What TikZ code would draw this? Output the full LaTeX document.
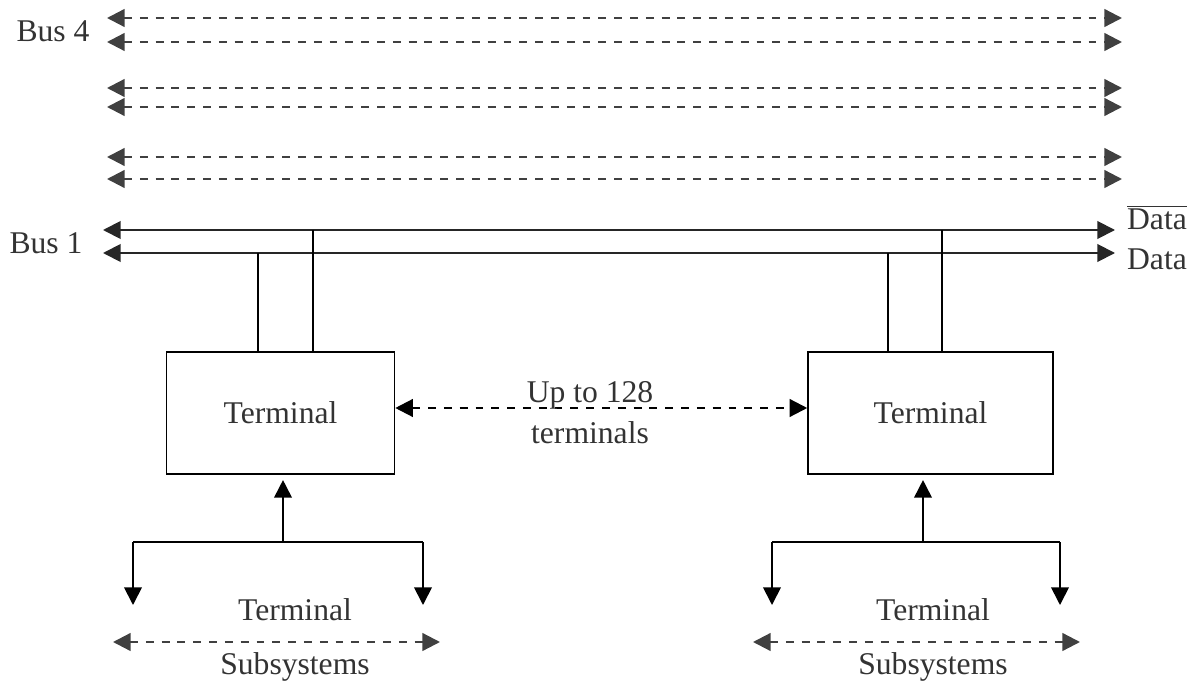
\documentclass[tikz,border=0pt]{standalone}
\usepackage{fontspec}
\setmainfont{Liberation Serif}
\usetikzlibrary{arrows.meta}

\tikzset{
  txt/.style={font=\fontsize{18}{20}\selectfont, text=black!80, inner sep=0pt},
  termbox/.style={draw, line width=0.9pt, minimum height=2.44cm, txt},
  arr/.style={line width=1.1pt, {Triangle[length=10pt,width=10pt]}-{Triangle[length=10pt,width=10pt]}},
  upa/.style={line width=1pt, -{Triangle[length=10pt,width=10pt]}},
  darr/.style={arr, line width=1.3pt, dash pattern=on 4.5pt off 4.5pt, black!75},
}

\begin{document}
\begin{tikzpicture}[x=0.02cm, y=-0.02cm]
\useasboundingbox (0,0) rectangle (1197,689);

% bus 4 .. bus 2
\node[txt] (bus4) at (53,31) {Bus 4};
\coordinate (b1l) at (107,18);  \coordinate (b1r) at (1122,18);
\coordinate (b2l) at (107,42);  \coordinate (b2r) at (1122,42);
\coordinate (b3l) at (107,88);  \coordinate (b3r) at (1122,88);
\coordinate (b4l) at (107,107); \coordinate (b4r) at (1122,107);
\coordinate (b5l) at (107,157); \coordinate (b5r) at (1122,157);
\coordinate (b6l) at (107,179); \coordinate (b6r) at (1122,179);
\draw[darr] (b1l) -- (b1r);
\draw[darr] (b2l) -- (b2r);
\draw[darr] (b3l) -- (b3r);
\draw[darr] (b4l) -- (b4r);
\draw[darr] (b5l) -- (b5r);
\draw[darr] (b6l) -- (b6r);

% bus 1
\node[txt] (bus1) at (46,243) {Bus 1};
\coordinate (nd1) at (103,230); \coordinate (nd2) at (1115,230);
\coordinate (d1) at (103,253);  \coordinate (d2) at (1115,253);
\draw[arr, black!85] (nd1) -- (nd2);
\draw[arr, black!85] (d1) -- (d2);
\node[txt, anchor=base] (ndata) at (1157,230) {$\overline{\mbox{Data}}$};
\node[txt, anchor=base] (data) at (1157,270) {Data};

% terminals
\node[termbox, minimum width=4.56cm] (t1) at (280.5,413) {Terminal};
\node[termbox, minimum width=4.9cm] (t2) at (930.5,413) {Terminal};

\coordinate (t1a) at (258,253); \coordinate (t1b) at (313,230);
\coordinate (t2a) at (888,253); \coordinate (t2b) at (942,230);
\draw[line width=0.9pt] (t1a) -- (t1a |- t1.north);
\draw[line width=0.9pt] (t1b) -- (t1b |- t1.north);
\draw[line width=0.9pt] (t2a) -- (t2a |- t2.north);
\draw[line width=0.9pt] (t2b) -- (t2b |- t2.north);

\coordinate (mid) at (590,408);
\draw[darr, black] (t1.east |- mid) -- (t2.west |- mid);
\node[txt] (upto) at (590,395) {Up to 128};
\node[txt] (nterm) at (590,433) {terminals};

% subsystems, left
\coordinate (s1) at (283,542);
\coordinate (s1l) at (133,542); \coordinate (s1r) at (423,542);
\coordinate (s1ld) at (133,605); \coordinate (s1rd) at (423,605);
\draw[upa] (s1) -- ([yshift=-3pt]s1 |- t1.south);
\draw[line width=1pt] (s1l) -- (s1r);
\draw[upa] (s1l) -- (s1ld);
\draw[upa] (s1r) -- (s1rd);
\node[txt] (st1) at (295,610) {Terminal};
\coordinate (g1l) at (113,642); \coordinate (g1r) at (440,642);
\draw[darr] (g1l) -- (g1r);
\node[txt] (sub1) at (295,667) {Subsystems};

% subsystems, right
\coordinate (s2) at (923,542);
\coordinate (s2l) at (772,542); \coordinate (s2r) at (1060,542);
\coordinate (s2ld) at (772,605); \coordinate (s2rd) at (1060,605);
\draw[upa] (s2) -- ([yshift=-3pt]s2 |- t2.south);
\draw[line width=1pt] (s2l) -- (s2r);
\draw[upa] (s2l) -- (s2ld);
\draw[upa] (s2r) -- (s2rd);
\node[txt] (st2) at (933,610) {Terminal};
\coordinate (g2l) at (753,642); \coordinate (g2r) at (1080,642);
\draw[darr] (g2l) -- (g2r);
\node[txt] (sub2) at (933,667) {Subsystems};
\end{tikzpicture}
\end{document}
